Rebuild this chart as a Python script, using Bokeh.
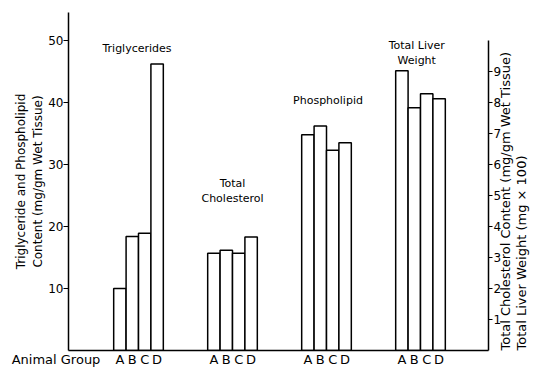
import math
from bokeh.plotting import figure
from bokeh.models import Range1d, LinearAxis, FixedTicker, Label, ColumnDataSource
from bokeh.embed import file_html
from bokeh.resources import INLINE

# ---- data ----
panel_titles = [["Triglycerides"], ["Total", "Cholesterol"], ["Phospholipid"], ["Total Liver", "Weight"]]
animal_groups = ["A", "B", "C", "D"]
triglycerides = [10.0, 18.4, 18.9, 46.2]        # mg/gm wet tissue (left axis)
total_cholesterol = [3.14, 3.23, 3.14, 3.66]    # mg/gm wet tissue (right axis)
phospholipid = [34.8, 36.2, 32.3, 33.5]         # mg/gm wet tissue (left axis)
liver_weight = [9.02, 7.83, 8.28, 8.12]         # mg x 100 (right axis)
left_ticks = [10, 20, 30, 40, 50]
right_ticks = [1, 2, 3, 4, 5, 6, 7, 8, 9]

FONT = "DejaVu Sans"
BAR_W = 0.132
offsets = [-1.5, -0.5, 0.5, 1.5]
panel_pos = [1, 2, 3, 4]

p = figure(width=548, height=369, output_backend="svg", toolbar_location=None,
           x_range=Range1d(0.2553, 4.7234), y_range=Range1d(0, 54.5),
           min_border_left=68, min_border_right=60, min_border_top=12, min_border_bottom=19)
p.extra_y_ranges = {"right": Range1d(0, 10.9)}
p.outline_line_color = None
p.xgrid.visible = False
p.ygrid.visible = False
p.background_fill_color = "white"

def xs_for(k):
    return [round(panel_pos[k] + o * BAR_W, 4) for o in offsets]

series = [(triglycerides, "default"), (total_cholesterol, "right"),
          (phospholipid, "default"), (liver_weight, "right")]
tick_x = []
overrides = {}
for k, (vals, rng) in enumerate(series):
    xs = xs_for(k)
    src = ColumnDataSource(dict(x=xs, top=vals, grp=animal_groups))
    p.vbar(x="x", top="top", bottom=0, width=BAR_W, source=src,
           fill_color="white", line_color="black", line_width=1.5,
           y_range_name=rng)
    for i, x in enumerate(xs):
        tick_x.append(x)
        overrides[x] = animal_groups[i]

# "Animal Group" caption on the bottom axis (padded so it ends left of the bars)
ag = 0.3425
tick_x.insert(0, ag)
overrides[ag] = "Animal Group" + "\u00a0" * 10

xa = p.xaxis[0]
xa.ticker = FixedTicker(ticks=tick_x)
xa.major_label_overrides = overrides
xa.major_tick_line_color = None
xa.minor_tick_line_color = None
xa.major_tick_out = 0
xa.minor_tick_out = 0
xa.major_label_standoff = 1
xa.axis_label_standoff = 0
xa.axis_line_width = 1.5
xa.major_label_text_font = FONT
xa.major_label_text_font_size = "13px"
xa.major_label_text_color = "black"

# left axis
ya = p.yaxis[0]
ya.ticker = FixedTicker(ticks=left_ticks)
ya.minor_tick_line_color = None
ya.major_tick_in = 0
ya.major_tick_out = 5
ya.axis_line_width = 1.5
ya.major_label_text_font = FONT
ya.major_label_text_font_size = "12px"
ya.major_label_text_color = "black"
ya.major_label_standoff = 0
ya.axis_label = "Triglyceride and Phospholipid\nContent (mg/gm Wet Tissue)"
ya.axis_label_text_font = FONT
ya.axis_label_text_font_size = "12px"
ya.axis_label_text_font_style = "normal"
ya.axis_label_text_color = "black"
ya.axis_label_standoff = 0

# right axis: ticks
ra = LinearAxis(y_range_name="right", ticker=FixedTicker(ticks=right_ticks), bounds=(0, 10))
ra.minor_tick_line_color = None
ra.major_tick_in = 0
ra.major_tick_out = 4
ra.axis_line_width = 1.5
ra.major_label_text_font = FONT
ra.major_label_text_font_size = "12px"
ra.major_label_text_color = "black"
ra.major_label_standoff = 1
p.add_layout(ra, "right")

# right axis: title, reading bottom-to-top
rl = LinearAxis(y_range_name="right", ticker=FixedTicker(ticks=[]), bounds=(-0.21, -0.11))
rl.axis_line_color = None
rl.major_tick_out = 0
rl.major_tick_in = 0
rl.minor_tick_out = 0
rl.minor_tick_in = 0
rl.major_label_standoff = 0
rl.axis_label = "Total Cholesterol Content (mg/gm Wet Tissue)\nTotal Liver Weight (mg × 100)"
rl.axis_label_orientation = math.pi / 2
rl.axis_label_text_font = FONT
rl.axis_label_text_font_size = "13px"
rl.axis_label_text_font_style = "normal"
rl.axis_label_text_color = "black"
rl.axis_label_text_line_height = 1.12
rl.axis_label_standoff = 9
if "axis_label_align" in rl.properties():
    rl.axis_label_align = "start"
p.add_layout(rl, "right")

# panel titles (one Label per line)
title_x = [0.984, 2.0, 3.016, 3.96]
title_y = [[48.7], [26.9, 24.5], [40.3], [49.2, 46.8]]
for tx, ys, lines in zip(title_x, title_y, panel_titles):
    for ty, t in zip(ys, lines):
        p.add_layout(Label(x=tx, y=ty, text=t, text_align="center", text_baseline="middle",
                           text_font=FONT, text_font_size="11px", text_color="black"))

open("out.html", "w").write(file_html(p, INLINE))
